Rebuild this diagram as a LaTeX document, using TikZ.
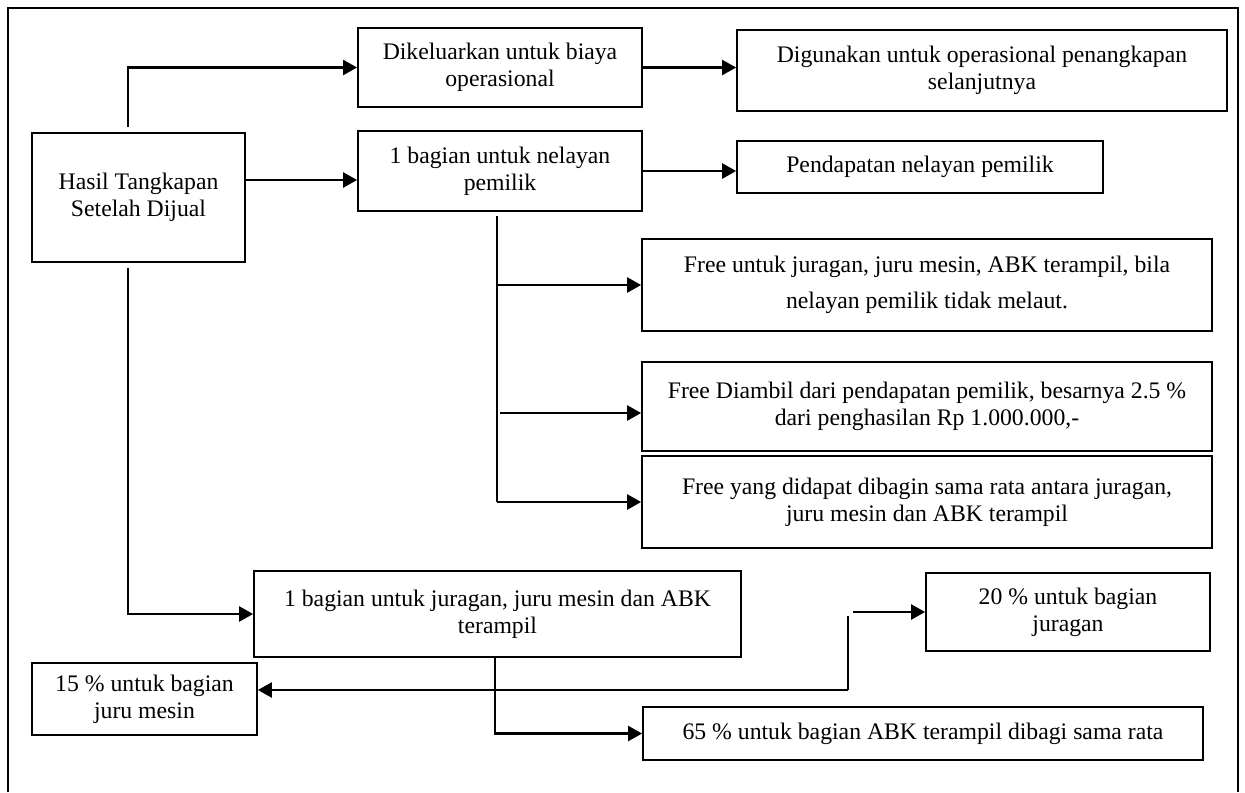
\documentclass[tikz,border=0pt]{standalone}
\usepackage{fontspec}
\setmainfont{Liberation Serif}
\usetikzlibrary{arrows.meta, positioning, calc}

\begin{document}
\begin{tikzpicture}[x=0.02cm, y=-0.02cm,
    box/.style={draw, line width=1pt, align=center, inner sep=2pt, font=\fontsize{13.5}{15.5}\selectfont},
    arr/.style={-{Triangle[length=8pt, width=8.5pt]}, line width=1.5pt}]
    \useasboundingbox (0,0) rectangle (1245,792);

    % outer frame, open at the bottom
    \draw[line width=0.8pt] (8,792) -- (8,8) -- (1238,8) -- (1238,792);

    % first column
    \node[box, minimum width=4.26cm, minimum height=2.58cm] (hasil) at (138.5,197.5) {Hasil Tangkapan\\Setelah Dijual};

    % second column
    \node[box, minimum width=5.68cm, minimum height=1.58cm] (biaya) at (500,67.5) {Dikeluarkan untuk biaya\\operasional};
    \node[box, minimum width=5.68cm, minimum height=1.60cm] (pemilik) at (500,171) {1 bagian untuk nelayan\\pemilik};
    \node[box, minimum width=9.74cm, minimum height=1.72cm] (juragan) at (497.5,614) {1 bagian untuk juragan, juru mesin dan ABK\\terampil};
    \node[box, minimum width=4.50cm, minimum height=1.44cm] (limabelas) at (144.5,699) {15 \% untuk bagian\\juru mesin};

    % third column
    \node[box, minimum width=9.80cm, minimum height=1.62cm] (lanjut) at (982,70.5) {Digunakan untuk operasional penangkapan\\selanjutnya};
    \node[box, minimum width=7.32cm, minimum height=1.04cm] (pendapatan) at (920,167) {Pendapatan nelayan pemilik};
    \node[box, minimum width=11.40cm, minimum height=1.84cm] (free1) at (927,285) {Free untuk juragan, juru mesin, ABK terampil, bila\\[5pt]nelayan pemilik tidak melaut.};
    \node[box, minimum width=11.40cm, minimum height=1.78cm] (free2) at (927,406.5) {Free Diambil dari pendapatan pemilik, besarnya 2.5 \%\\dari penghasilan Rp 1.000.000,-};
    \node[box, minimum width=11.40cm, minimum height=1.84cm] (free3) at (927,502) {Free yang didapat dibagin sama rata antara juragan,\\juru mesin dan ABK terampil};
    \node[box, minimum width=5.68cm, minimum height=1.56cm] (duapuluh) at (1068,612) {20 \% untuk bagian\\juragan};
    \node[box, minimum width=11.20cm, minimum height=1.06cm] (enampuluh) at (923,733.5) {65 \% untuk bagian ABK terampil dibagi sama rata};

    % from the catch
    \draw[arr] ([xshift=-0.21cm, yshift=0.1cm]hasil.north) |- (biaya.west);
    \draw[arr] ([yshift=0.35cm]hasil.east) coordinate (h1) -- (h1 -| pemilik.west);
    \draw[arr] ([xshift=-0.21cm, yshift=-0.1cm]hasil.south) |- (juragan.west);

    \draw[arr] (biaya.east) -- (biaya.east -| lanjut.west);
    \draw[arr] (pemilik.east) -- (pemilik.east -| pendapatan.west);

    % owner share
    \draw[line width=1.1pt] ([xshift=-0.06cm, yshift=-0.08cm]pemilik.south) coordinate (p0) -- (p0 |- free3.west);
    \draw[arr] (p0 |- free1.west) -- (free1.west);
    \coordinate (f2) at ([yshift=-0.13cm]free2.west);
    \draw[arr] ([xshift=0.06cm]f2 -| p0) -- (f2);
    \draw[arr] (p0 |- free3.west) -- (free3.west);

    % crew share
    \draw[arr] ([xshift=-0.05cm]juragan.south) |- (enampuluh.west);
    \coordinate (c1) at (848,690);
    \draw[arr] (c1) -- (c1 -| limabelas.east);
    \draw[line width=1.1pt] (c1) -- ([yshift=-0.08cm]c1 |- duapuluh.west);
    \draw[arr] ([xshift=0.1cm]c1 |- duapuluh.west) -- (duapuluh.west);
\end{tikzpicture}
\end{document}
